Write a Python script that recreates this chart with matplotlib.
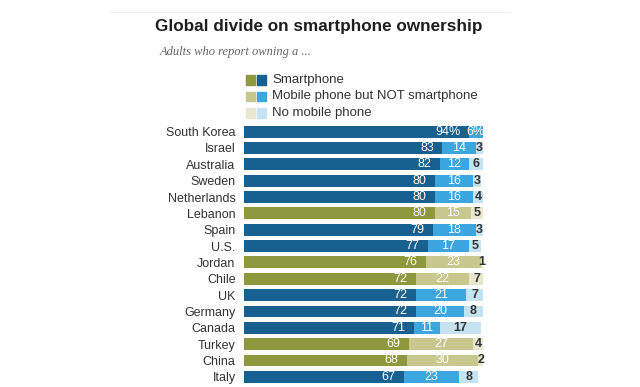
import matplotlib.pyplot as plt
import numpy as np

# Data
countries = ['South Korea', 'Israel', 'Australia', 'Sweden', 'Netherlands', 'Lebanon',
             'Spain', 'U.S.', 'Jordan', 'Chile', 'UK', 'Germany', 'Canada', 'Turkey',
             'China', 'Italy']
smartphone = [94, 83, 82, 80, 80, 80, 79, 77, 76, 72, 72, 72, 71, 69, 68, 67]
mobile_not_smart = [6, 14, 12, 16, 16, 15, 18, 17, 23, 22, 21, 20, 11, 27, 30, 23]
no_mobile = [0, 3, 6, 3, 4, 5, 3, 5, 1, 7, 7, 8, 17, 4, 2, 8]
emerging = ['Lebanon', 'Jordan', 'Chile', 'Turkey', 'China']

blues = ['#17608f', '#3ea6df', '#c6e3f4']
olives = ['#8e983f', '#c8c78e', '#e8e8d0']
FONT = 'Liberation Sans'

fig = plt.figure(figsize=(6.4, 3.87), dpi=100)
fig.patch.set_facecolor('white')

ax = fig.add_axes([0.3813, 0.0054, 0.3734, 0.6755])
y = np.arange(len(countries))
left = np.zeros(len(countries))
for k, vals in enumerate([smartphone, mobile_not_smart, no_mobile]):
    cols = [olives[k] if c in emerging else blues[k] for c in countries]
    ax.barh(y, vals, left=left, color=cols, height=0.72)
    for i, v in enumerate(vals):
        if v == 0:
            continue
        end = left[i] + v
        txt = f'{v}%' if i == 0 else str(v)
        if k == 0:
            ax.text(end - 3.5, y[i], txt, ha='right', va='center', color='white',
                    fontsize=9, fontfamily=FONT)
        elif k == 1:
            ax.text(left[i] + v / 2, y[i], txt, ha='center', va='center', color='white',
                    fontsize=9, fontfamily=FONT)
        else:
            ax.text(left[i] + v / 2, y[i], txt, ha='center', va='center', color='#333333',
                    fontsize=9, fontweight='bold', fontfamily=FONT)
    left += np.array(vals)

ax.set_xlim(0, 100)
ax.set_ylim(len(countries) - 0.5, -0.5)
ax.set_yticks(y)
ax.set_yticklabels(countries, fontsize=9, fontfamily=FONT, color='#333333')
ax.tick_params(axis='y', length=0, pad=6)
ax.set_xticks([])
for s in ax.spines.values():
    s.set_visible(False)

# Faint rule at top
fig.add_artist(plt.Line2D([110 / 640, 510 / 640], [1 - 12 / 387, 1 - 12 / 387],
                          color='#eeeeee', lw=0.8))

fig.text(155 / 640, 1 - 26 / 387, 'Global divide on smartphone ownership',
         fontsize=12.3, fontweight='bold', fontfamily=FONT,
         color='#1e1e1e', va='center', ha='left')
fig.text(160 / 640, 1 - 52 / 387, 'Adults who report owning a ...',
         fontsize=9, style='italic', fontfamily='Liberation Serif',
         color='#666666', va='center', ha='left')

# Legend with paired squares
legend_labels = ['Smartphone', 'Mobile phone but NOT smartphone', 'No mobile phone']
for k, lab in enumerate(legend_labels):
    yy = 1 - (80 + 16.5 * k) / 387
    for j, col in enumerate([olives[k], blues[k]]):
        fig.add_artist(plt.Rectangle(((246 + 11 * j) / 640, yy - 4.5 / 387), 9 / 640, 9 / 387,
                                     color=col, transform=fig.transFigure))
    fig.text(272 / 640, yy, lab, fontsize=9.5, fontfamily=FONT,
             color='#333333', va='center', ha='left')

fig.savefig('out.png', dpi=100, facecolor='white')
